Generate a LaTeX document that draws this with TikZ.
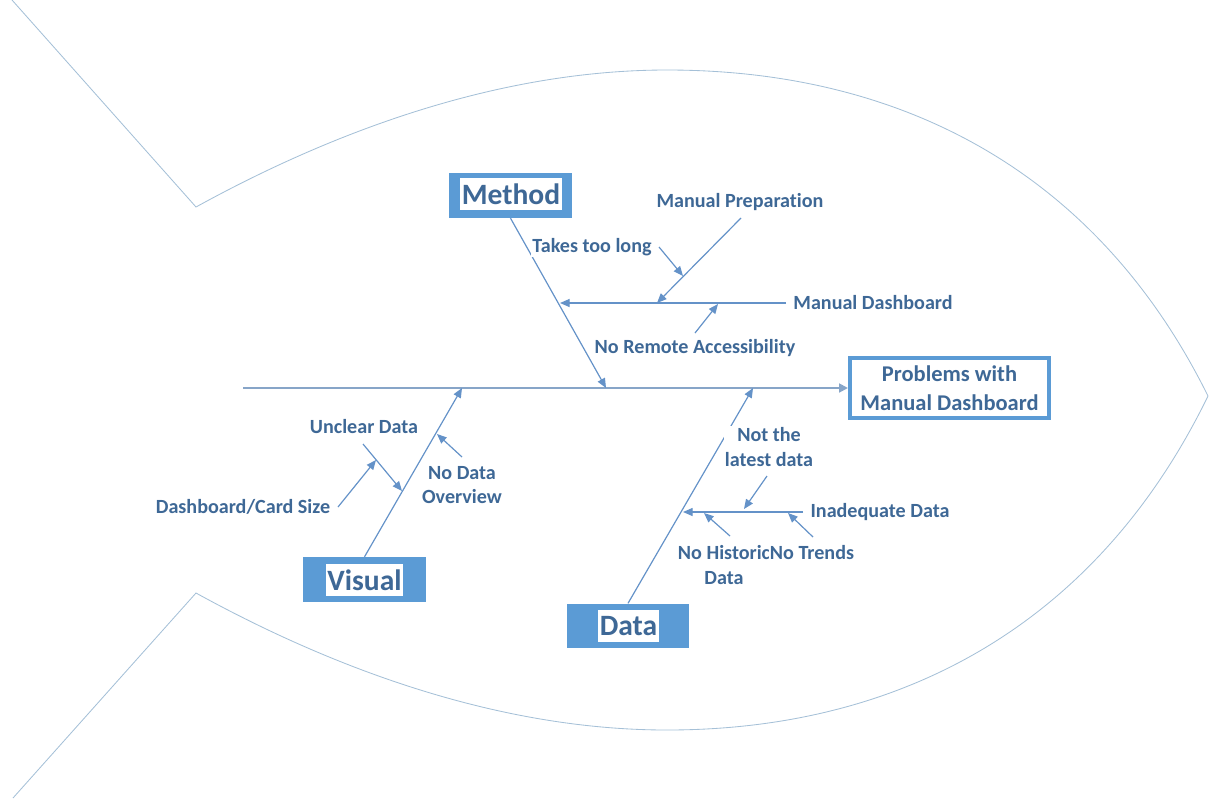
\documentclass[tikz,border=0pt]{standalone}
\usepackage{fontspec}
\setmainfont{Carlito}[Ligatures=NoCommon]
\usetikzlibrary{arrows.meta}

\definecolor{boxblue}{RGB}{91,155,213}
\definecolor{txtblue}{RGB}{62,104,150}
\definecolor{bonecol}{RGB}{100,146,200}
\definecolor{spinecol}{RGB}{135,165,200}
\definecolor{fishcol}{RGB}{165,192,215}

\tikzset{
  catbox/.style={fill=boxblue, minimum width=3.05cm, minimum height=1.12cm, inner sep=0pt},
  cattitle/.style={fill=white, text=txtblue, font=\fontsize{21}{24}\selectfont\bfseries,
    inner xsep=1pt, inner ysep=0pt, minimum height=0.82cm},
  effectbox/.style={draw=boxblue, line width=0.1cm, fill=white, text=txtblue, align=center,
    font=\fontsize{16}{20.5}\selectfont\bfseries, minimum width=4.975cm, minimum height=1.5cm, inner sep=0pt},
  cause/.style={fill=white, text=txtblue, align=center, font=\fontsize{14.3}{17.5}\selectfont\bfseries, inner sep=1pt},
  bone/.style={draw=bonecol, line width=0.85pt, -{Triangle[length=0.24cm, width=0.2cm]}},
  spine/.style={draw=spinecol, line width=1.4pt, -{Triangle[length=0.22cm, width=0.22cm]}},
  fish/.style={draw=fishcol, line width=0.6pt}
}

\begin{document}
\begin{tikzpicture}[x=0.025cm, y=-0.025cm]
% Page size in pixels of the reference
\useasboundingbox (0,0) rectangle (1209,798);

% Fish outline: tail and body
\draw[fish] (12,0) -- (196,207)
  .. controls (356,119) and (517,70) .. (667,70)
  .. controls (897,70) and (1095,168) .. (1208,396);
\draw[fish] (13,798) -- (196,593)
  .. controls (356,681) and (517,730) .. (667,730)
  .. controls (897,730) and (1095,628) .. (1208,396);

% Head and category boxes
\node[effectbox] (problems) at (949.5,388) {Problems with\\Manual Dashboard};
\node[catbox] (method) at (510.5,195.5) {};
\node[cattitle] (methodtxt) at (511,194) {Method};
\node[catbox] (visual) at (364.5,579.5) {};
\node[cattitle] (visualtxt) at (364.5,580) {Visual};
\node[catbox] (data) at (628,626) {};
\node[cattitle] (datatxt) at (628.5,626) {Data};

% Backbone
\coordinate (tail) at (243,388);
\draw[spine] (tail) -- (problems.west);

% Main bones
\coordinate (mtip) at (606,388);
\coordinate (vtip) at (462,388);
\coordinate (dtip) at (753,388);
\draw[bone] (method.south) -- (mtip);
\draw[bone] (visual.north) -- (vtip);
\draw[bone] (data.north) -- (dtip);

% Method causes
\coordinate (md0) at (786,303);
\coordinate (md1) at (560,303);
\draw[bone] (md0) -- (md1);
\coordinate (mp0) at (741,218);
\coordinate (mp1) at (657,303);
\draw[bone] (mp0) -- (mp1);
\coordinate (tl0) at (659,247);
\coordinate (tl1) at (683,276);
\draw[bone] (tl0) -- (tl1);
\coordinate (nr0) at (695,333);
\coordinate (nr1) at (718,304);
\draw[bone] (nr0) -- (nr1);

% Visual causes
\coordinate (uc0) at (363,444);
\coordinate (uc1) at (402,491);
\draw[bone] (uc0) -- (uc1);
\coordinate (dc0) at (338,507);
\coordinate (dc1) at (376,460);
\draw[bone] (dc0) -- (dc1);
\coordinate (nd0) at (462,457);
\coordinate (nd1) at (437,434);
\draw[bone] (nd0) -- (nd1);

% Data causes
\coordinate (ia0) at (803,512);
\coordinate (ia1) at (683,512);
\draw[bone] (ia0) -- (ia1);
\coordinate (nl0) at (767,476);
\coordinate (nl1) at (744,509);
\draw[bone] (nl0) -- (nl1);
\coordinate (nh0) at (730,536);
\coordinate (nh1) at (704,513);
\draw[bone] (nh0) -- (nh1);
\coordinate (nt0) at (813,537);
\coordinate (nt1) at (788,513);
\draw[bone] (nt0) -- (nt1);

% Labels
\node[cause] (manprep) at (740,202) {Manual Preparation};
\node[cause] (takes) at (592,247) {Takes too long};
\node[cause] (mandash) at (873,303) {Manual Dashboard};
\node[cause] (remote) at (695,348) {No Remote Accessibility};
\node[cause] (unclear) at (364,427) {Unclear Data};
\node[cause] (cardsize) at (243,507) {Dashboard/Card Size};
\node[cause] (overview) at (462,485) {No Data\\Overview};
\node[cause] (latest) at (769,447) {Not the\\latest data};
\node[cause] (inadequate) at (880,512) {Inadequate Data};
\node[cause] (historic) at (724,565) {No Historic\\Data};
\node[cause] (trends) at (812,553) {No Trends};
\end{tikzpicture}
\end{document}
